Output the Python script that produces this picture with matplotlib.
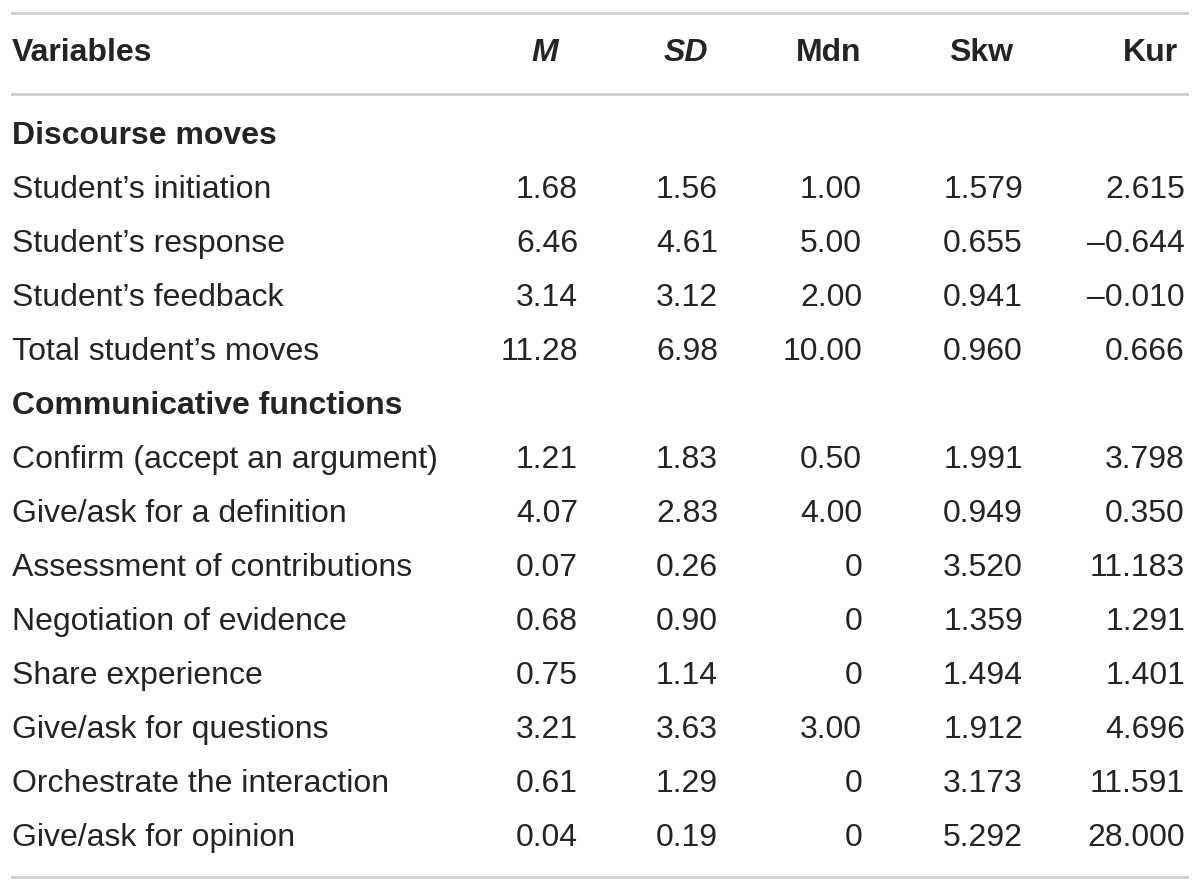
import matplotlib
matplotlib.use("Agg")
import matplotlib.pyplot as plt
from matplotlib.lines import Line2D

plt.rcParams['font.family'] = ['Liberation Sans', 'DejaVu Sans']

headers = ["Variables", "M", "SD", "Mdn", "Skw", "Kur"]
sections = ["Discourse moves", "Communicative functions"]
rows_1 = ["Student’s initiation", "Student’s response", "Student’s feedback", "Total student’s moves"]
M_1 = ["1.68", "6.46", "3.14", "11.28"]
SD_1 = ["1.56", "4.61", "3.12", "6.98"]
Mdn_1 = ["1.00", "5.00", "2.00", "10.00"]
Skw_1 = ["1.579", "0.655", "0.941", "0.960"]
Kur_1 = ["2.615", "–0.644", "–0.010", "0.666"]
rows_2 = ["Confirm (accept an argument)", "Give/ask for a definition", "Assessment of contributions",
          "Negotiation of evidence", "Share experience", "Give/ask for questions",
          "Orchestrate the interaction", "Give/ask for opinion"]
M_2 = ["1.21", "4.07", "0.07", "0.68", "0.75", "3.21", "0.61", "0.04"]
SD_2 = ["1.83", "2.83", "0.26", "0.90", "1.14", "3.63", "1.29", "0.19"]
Mdn_2 = ["0.50", "4.00", "0", "0", "0", "3.00", "0", "0"]
Skw_2 = ["1.991", "0.949", "3.520", "1.359", "1.494", "1.912", "3.173", "5.292"]
Kur_2 = ["3.798", "0.350", "11.183", "1.291", "1.401", "4.696", "11.591", "28.000"]

W, H = 1200, 891
fig = plt.figure(figsize=(W / 100, H / 100), dpi=100)
fig.patch.set_facecolor("white")
ax = fig.add_axes([0, 0, 1, 1])
ax.set_xlim(0, W)
ax.set_ylim(H, 0)
ax.axis("off")

fs = 23
col_right = [578, 718, 862, 1023, 1185]
head_x = [545, 686, 829, 981, 1150]
txt_color = "#262324"
line_color = "#cfcfcf"

for y in (13, 94, 877):
    ax.add_line(Line2D([12, 1187], [y, y], color=line_color, lw=2))

ax.text(12, 53, headers[0], fontsize=fs, fontweight="bold", ha="left", va="center", color=txt_color)
for i, h in enumerate(headers[1:]):
    style = "italic" if h in ("M", "SD") else "normal"
    ax.text(head_x[i], 53, h, fontsize=fs, fontweight="bold", fontstyle=style,
            ha="center", va="center", color=txt_color)

y = 136
step = 54
blocks = [(sections[0], rows_1, [M_1, SD_1, Mdn_1, Skw_1, Kur_1]),
          (sections[1], rows_2, [M_2, SD_2, Mdn_2, Skw_2, Kur_2])]
for sec, names, cols in blocks:
    ax.text(12, y, sec, fontsize=fs, fontweight="bold", ha="left", va="center", color=txt_color)
    y += step
    for r, name in enumerate(names):
        ax.text(12, y, name, fontsize=fs, ha="left", va="center", color=txt_color)
        for c, col in enumerate(cols):
            ax.text(col_right[c], y, col[r], fontsize=fs, ha="right", va="center", color=txt_color)
        y += step

fig.savefig("out.png", dpi=100, facecolor="white")
